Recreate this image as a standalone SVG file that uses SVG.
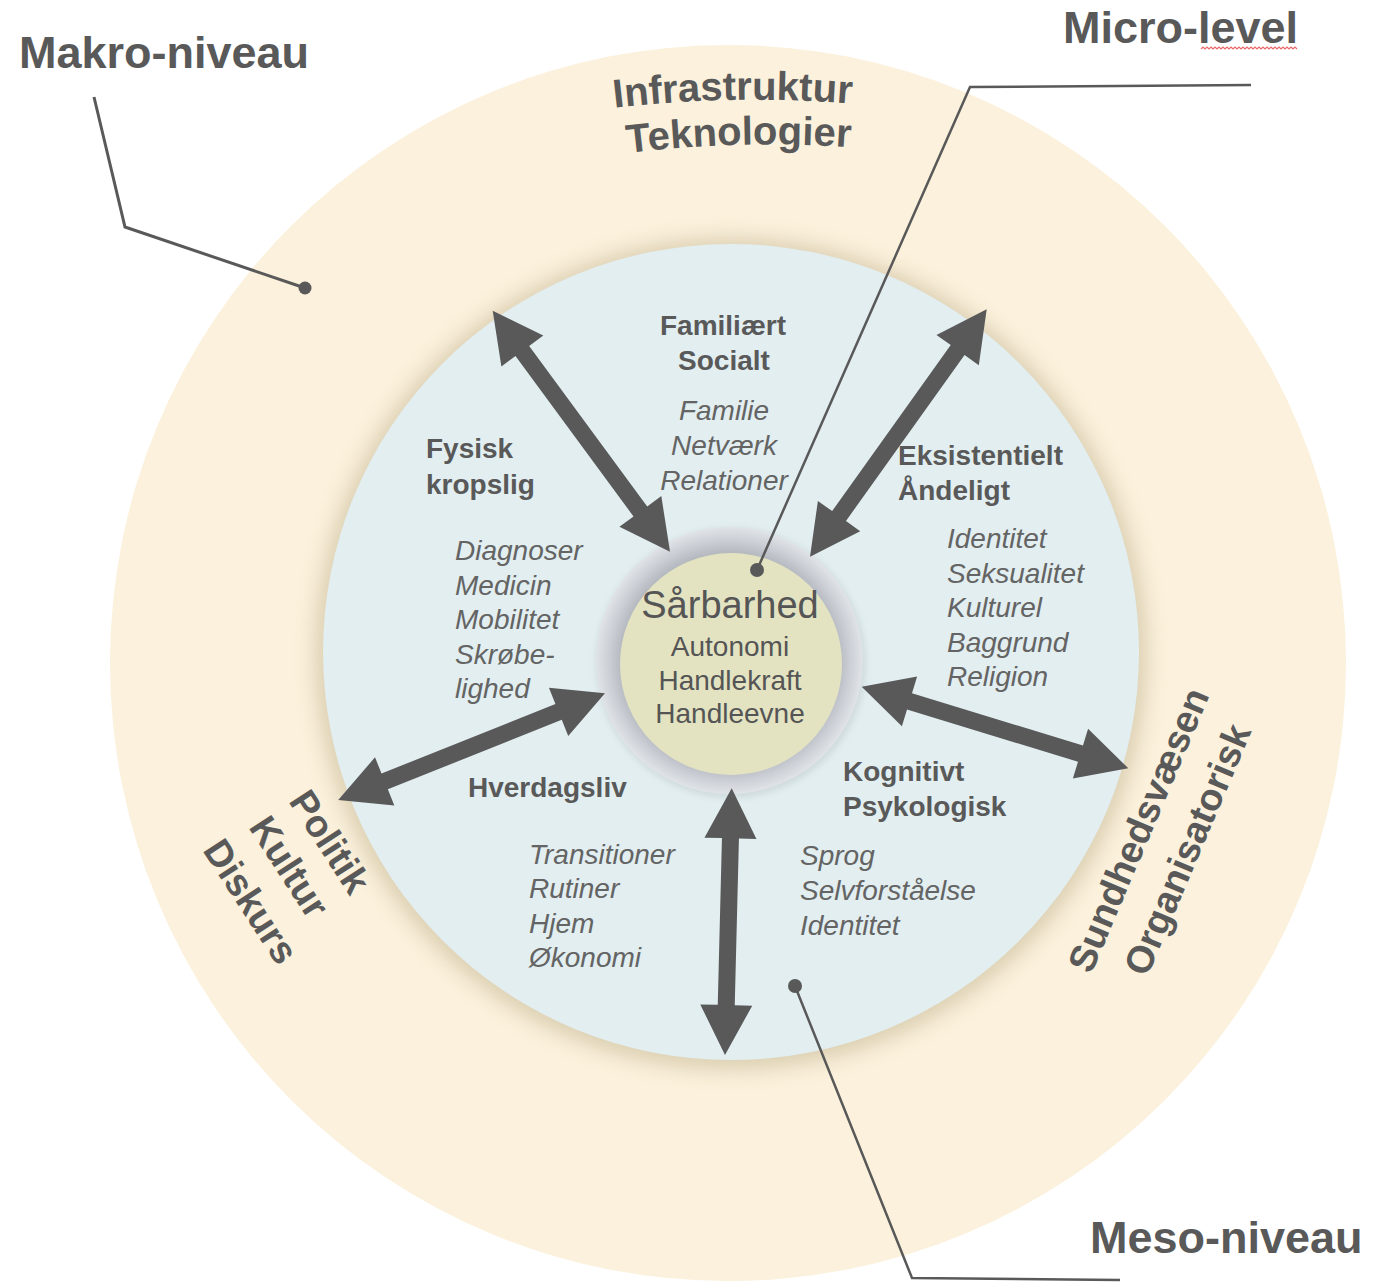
<svg xmlns="http://www.w3.org/2000/svg" width="1396" height="1282" viewBox="0 0 1396 1282">
<defs>
<style>
.lvl{font-family:"Liberation Sans",Arial,sans-serif;font-weight:bold;font-size:45px;fill:#595959}
.ring{font-family:"Liberation Sans",Arial,sans-serif;font-weight:bold;font-size:38px;fill:#595959}
.hd{font-family:"Liberation Sans",Arial,sans-serif;font-weight:bold;font-size:28px;fill:#595959}
.it{font-family:"Liberation Sans",Arial,sans-serif;font-style:italic;font-size:28px;fill:#646464}
.ctr{font-family:"Liberation Sans",Arial,sans-serif;font-size:28px;fill:#555555;text-anchor:middle}
.mid{text-anchor:middle}
.arrow{fill:#595959}
.lead{fill:none;stroke:#595959;stroke-width:3;stroke-linejoin:miter}
.dot{fill:#595959}
</style>
<filter id="blur" x="-20%" y="-20%" width="140%" height="140%"><feGaussianBlur stdDeviation="10"/></filter>
<filter id="blur2" x="-20%" y="-20%" width="140%" height="140%"><feGaussianBlur stdDeviation="3"/></filter>
<radialGradient id="ringG" cx="0.5" cy="0.5" r="0.5">
<stop offset="0.8" stop-color="#b3b7be"/>
<stop offset="0.9" stop-color="#cbced4"/>
<stop offset="1" stop-color="#e0e3e7"/>
</radialGradient>
<path id="arc1" d="M433,138 A1200,1200 0 0 1 1033,138"/>
<path id="arc2" d="M439,183 A1200,1200 0 0 1 1039,183"/>
</defs>

<g id="makro-ring">
<circle cx="728" cy="663" r="618" fill="#fbf1dc"/>
</g>

<g id="meso-circle">
<circle cx="731" cy="654" r="416" fill="#cbbd9c" opacity="0.65" filter="url(#blur)"/>
<circle cx="731" cy="652" r="408" fill="#e2eef0"/>
</g>

<g id="micro-center">
<circle cx="731" cy="663" r="135" fill="#9aa0a8" opacity="0.25" filter="url(#blur2)"/>
<circle cx="729.5" cy="660.5" r="133.5" fill="url(#ringG)"/>
<circle cx="731" cy="664" r="111" fill="#e3e3c2"/>
<text class="ctr" x="730" y="618" style="font-size:38px">Sårbarhed</text>
<text class="ctr" x="730" y="656">Autonomi</text>
<text class="ctr" x="730" y="690">Handlekraft</text>
<text class="ctr" x="730" y="723">Handleevne</text>
</g>

<g id="connectors">
<path class="arrow" transform="translate(492.7 310.7) rotate(53.66)" d="M0,0 L50,-26 L50,-8.5 L249.2,-8.5 L249.2,-26 L299.2,0 L249.2,26 L249.2,8.5 L50,8.5 L50,26 Z"/>
<path class="arrow" transform="translate(810 556.7) rotate(-54.46)" d="M0,0 L50,-26 L50,-8.5 L254,-8.5 L254,-26 L304,0 L254,26 L254,8.5 L50,8.5 L50,26 Z"/>
<path class="arrow" transform="translate(861.7 686.7) rotate(17.02)" d="M0,0 L50,-26 L50,-8.5 L228.8,-8.5 L228.8,-26 L278.8,0 L228.8,26 L228.8,8.5 L50,8.5 L50,26 Z"/>
<path class="arrow" transform="translate(731.7 788.3) rotate(91.44)" d="M0,0 L50,-26 L50,-8.5 L216.8,-8.5 L216.8,-26 L266.8,0 L216.8,26 L216.8,8.5 L50,8.5 L50,26 Z"/>
<path class="arrow" transform="translate(605 693.3) rotate(158.2)" d="M0,0 L50,-26 L50,-8.5 L237.3,-8.5 L237.3,-26 L287.3,0 L237.3,26 L237.3,8.5 L50,8.5 L50,26 Z"/>
<path class="lead" d="M94,97 L125,227 L305,288"/>
<circle class="dot" cx="305" cy="288" r="6.5"/>
<path class="lead" d="M1251,85 L970,87 L757,570" style="stroke-width:2.5"/>
<circle class="dot" cx="757" cy="570" r="7"/>
<path class="lead" d="M795,986 L912,1278 L1120,1280" style="stroke-width:2.5"/>
<circle class="dot" cx="795" cy="986" r="7"/>
</g>

<g id="label-makro"><text class="lvl" x="19" y="68">Makro-niveau</text></g>
<g id="label-micro"><text class="lvl" x="1063" y="43">Micro-level</text>
<path d="M1201,49 l2,-2 l2,2 l2,-2 l2,2 l2,-2 l2,2 l2,-2 l2,2 l2,-2 l2,2 l2,-2 l2,2 l2,-2 l2,2 l2,-2 l2,2 l2,-2 l2,2 l2,-2 l2,2 l2,-2 l2,2 l2,-2 l2,2 l2,-2 l2,2 l2,-2 l2,2 l2,-2 l2,2 l2,-2 l2,2 l2,-2 l2,2 l2,-2 l2,2 l2,-2 l2,2 l2,-2 l2,2 l2,-2 l2,2 l2,-2 l2,2 l2,-2 l2,2 l2,-2 l2,2" fill="none" stroke="#e86a6a" stroke-width="1.2"/></g>
<g id="label-meso"><text class="lvl" x="1090" y="1253">Meso-niveau</text></g>

<g id="ring-top">
<text class="ring" style="font-size:40px" transform="rotate(-1 733 100)"><textPath href="#arc1" startOffset="50%" text-anchor="middle">Infrastruktur</textPath></text>
<text class="ring" style="font-size:40px" transform="rotate(-1.5 739 144)"><textPath href="#arc2" startOffset="50%" text-anchor="middle">Teknologier</textPath></text>
</g>
<g id="ring-left">
<text class="ring" transform="translate(288 801) rotate(57)">Politik</text>
<text class="ring" transform="translate(248 827) rotate(57)">Kultur</text>
<text class="ring" transform="translate(202 850) rotate(57)">Diskurs</text>
</g>
<g id="ring-right">
<text class="ring" transform="translate(1091 975) rotate(-67)">Sundhedsvæsen</text>
<text class="ring" transform="translate(1147 978) rotate(-67)">Organisatorisk</text>
</g>

<g id="node-familiaert">
<text class="hd mid" x="723" y="335">Familiært</text>
<text class="hd mid" x="724" y="370">Socialt</text>
<text class="it mid" x="724" y="420">Familie</text>
<text class="it mid" x="724" y="455">Netværk</text>
<text class="it mid" x="724" y="490">Relationer</text>
</g>
<g id="node-fysisk">
<text class="hd" x="426" y="458">Fysisk</text>
<text class="hd" x="426" y="494">kropslig</text>
<text class="it" x="455" y="560">Diagnoser</text>
<text class="it" x="455" y="594.5">Medicin</text>
<text class="it" x="455" y="629">Mobilitet</text>
<text class="it" x="455" y="663.5">Skrøbe-</text>
<text class="it" x="455" y="698">lighed</text>
</g>
<g id="node-eksistentielt">
<text class="hd" x="898" y="465">Eksistentielt</text>
<text class="hd" x="898" y="500">Åndeligt</text>
<text class="it" x="947" y="548">Identitet</text>
<text class="it" x="947" y="582.5">Seksualitet</text>
<text class="it" x="947" y="617">Kulturel</text>
<text class="it" x="947" y="651.5">Baggrund</text>
<text class="it" x="947" y="686">Religion</text>
</g>
<g id="node-kognitivt">
<text class="hd" x="843" y="781">Kognitivt</text>
<text class="hd" x="843" y="816">Psykologisk</text>
<text class="it" x="800" y="865">Sprog</text>
<text class="it" x="800" y="900">Selvforståelse</text>
<text class="it" x="800" y="935">Identitet</text>
</g>
<g id="node-hverdagsliv">
<text class="hd" x="468" y="797">Hverdagsliv</text>
<text class="it" x="529" y="864">Transitioner</text>
<text class="it" x="529" y="898">Rutiner</text>
<text class="it" x="529" y="933">Hjem</text>
<text class="it" x="529" y="967">Økonomi</text>
</g>
</svg>
